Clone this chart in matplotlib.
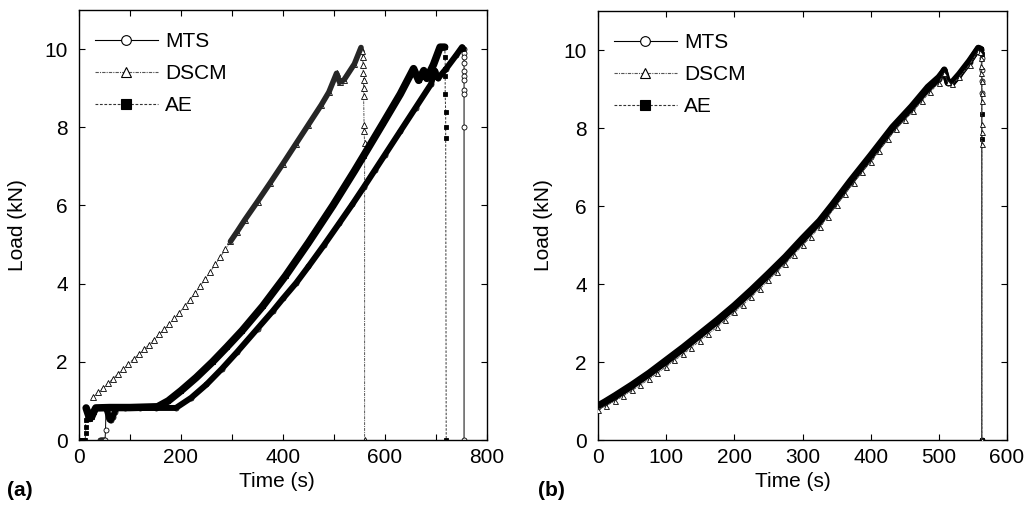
import matplotlib
matplotlib.use("Agg")
import matplotlib.pyplot as plt
from matplotlib.lines import Line2D

plt.rcParams['font.family'] = ['Liberation Sans', 'DejaVu Sans']

# ---------------- Panel (a) data ----------------
mts_a_t = [41, 43, 45, 47, 49, 51, 52, 53, 56, 59, 62, 66, 70, 74, 90, 120, 150, 190,
           220, 250, 280, 310, 350, 380, 400, 426, 450, 480, 510, 536, 558, 580, 600, 630,
           660, 690, 698, 704, 720, 740, 751, 754,
           755, 755, 755, 755, 755, 755, 755, 755, 755, 755]
mts_a_load = [0, 0, 0, 0, 0, 0, 0.26, 0.82, 0.7, 0.55, 0.5, 0.58, 0.72, 0.82, 0.82, 0.82, 0.82, 0.82,
              1.08, 1.42, 1.82, 2.25, 2.85, 3.3, 3.62, 4.02, 4.44, 4.98, 5.54, 6.03, 6.46, 6.9, 7.3, 7.9,
              8.5, 9.1, 9.45, 9.25, 9.5, 9.85, 10.05, 10.0,
              9.9, 9.8, 9.65, 9.45, 9.3, 9.2, 8.95, 8.85, 8.0, 0]

ae_a_t = [0, 3, 6, 9, 12, 13, 13, 13, 14, 17, 21, 25, 29, 33, 60, 100, 154,
          175, 200, 230, 262, 290, 320, 360, 405, 450, 498, 540, 558, 596, 630, 656, 666,
          676, 682, 695, 708, 717,
          718, 718, 718, 718, 719, 719, 719, 720]
ae_a_load = [0, 0, 0, 0, 0, 0.18, 0.34, 0.51, 0.82, 0.7, 0.55, 0.6, 0.72, 0.82, 0.83, 0.83, 0.85,
             1.0, 1.26, 1.6, 2.0, 2.38, 2.8, 3.42, 4.2, 5.05, 6.0, 6.88, 7.27, 8.1, 8.85, 9.5, 9.2,
             9.45, 9.25, 9.6, 10.05, 10.05,
             9.8, 9.5, 9.3, 8.85, 8.38, 8.0, 7.73, 0]

dscm_a_t = [27, 37, 47, 57, 67, 77, 87, 97, 107, 117, 127, 137, 147, 157, 167, 177, 187, 197,
            207, 217, 227, 237, 247, 257, 267, 277, 287, 297,
            310, 325, 350, 375, 400, 425, 450, 475, 490, 505, 511, 520, 540, 553,
            555, 556, 557, 557, 558, 558, 558, 559, 559, 560, 560]
dscm_a_load = [1.09, 1.22, 1.33, 1.45, 1.57, 1.70, 1.82, 1.95, 2.07, 2.19, 2.32, 2.44, 2.57, 2.70,
               2.83, 2.97, 3.11, 3.26, 3.42, 3.58, 3.75, 3.93, 4.11, 4.30, 4.49, 4.68, 4.88, 5.08,
               5.33, 5.63, 6.1, 6.58, 7.07, 7.57, 8.07, 8.57, 8.9, 9.38, 9.15, 9.22, 9.62, 10.04,
               9.95, 9.8, 9.6, 9.4, 9.2, 9.0, 8.8, 8.05, 7.9, 7.6, 0]

# ---------------- Panel (b) data ----------------
mts_b_t = [0, 10, 25, 50, 75, 100, 125, 150, 175, 200, 225, 250, 275, 300, 325, 344, 370, 400,
           432, 460, 484, 500, 508, 513, 520, 530, 545, 558, 562,
           563, 563, 563, 563, 563]
mts_b_load = [0.85, 0.95, 1.1, 1.38, 1.68, 2.0, 2.33, 2.68, 3.03, 3.4, 3.8, 4.22, 4.65, 5.12, 5.58,
              6.0, 6.6, 7.25, 7.98, 8.5, 9.0, 9.25, 9.5, 9.15, 9.15, 9.35, 9.7, 10.05, 10.0,
              9.8, 9.5, 9.2, 8.9, 0]

ae_b_t = [0, 10, 25, 50, 75, 100, 125, 150, 175, 200, 225, 250, 275, 300, 325, 344, 370, 400,
          432, 460, 484, 500, 508, 513, 520, 530, 545, 558, 562,
          563, 563, 563, 563]
ae_b_load = [0.88, 0.98, 1.14, 1.42, 1.72, 2.05, 2.38, 2.73, 3.08, 3.45, 3.85, 4.27, 4.7, 5.17, 5.62,
             6.04, 6.64, 7.3, 8.02, 8.55, 9.05, 9.3, 9.48, 9.18, 9.18, 9.38, 9.72, 10.05, 10.02,
             9.9, 8.37, 7.72, 0]

dscm_b_t = [0, 12, 25, 37, 50, 62, 75, 87, 100, 112, 125, 137, 150, 162, 175, 187, 200, 212, 225, 237,
            250, 262, 275, 287, 300, 312, 325, 337, 350, 362, 375, 387, 400, 412, 425, 437, 450, 462,
            475, 487, 500, 508, 513, 520, 530, 545, 558, 561,
            562, 562, 562, 563, 563, 563, 563, 563, 563, 563]
dscm_b_load = [0.78, 0.88, 1.0, 1.13, 1.27, 1.41, 1.56, 1.71, 1.88, 2.04, 2.2, 2.37, 2.55, 2.72, 2.9,
               3.08, 3.27, 3.46, 3.67, 3.87, 4.09, 4.3, 4.52, 4.75, 4.99, 5.21, 5.45, 5.72, 6.02, 6.3,
               6.6, 6.86, 7.14, 7.41, 7.71, 7.97, 8.21, 8.43, 8.69, 8.92, 9.15, 9.42, 9.18, 9.12, 9.3,
               9.62, 9.98, 9.95,
               9.8, 9.6, 9.4, 9.2, 8.9, 8.7, 8.1, 7.9, 7.6, 0]

series_labels = ["MTS", "DSCM", "AE"]

# index ranges where the recorded points are so dense they form a solid band
mts_a_band = (7, 41)
ae_a_band = (8, 37)
dscm_a_band = (27, 41)
mts_b_band = (0, 28)
ae_b_band = (0, 28)

STY = {
    "MTS": dict(marker="o", mfc="white", ls="-", color="black"),
    "DSCM": dict(marker="^", mfc="white", ls=(0, (3, 1, 1, 1)), color="#555555"),
    "AE": dict(marker="s", mfc="black", ls=(0, (2.5, 1.5)), color="#333333"),
}


def draw(ax, t, y, name, ms, band=None, bandw=4.0, bandcolor="black", z=2):
    s = STY[name]
    ax.plot(t, y, linestyle=s["ls"], color=s["color"], lw=0.7, marker=s["marker"],
            mfc=s["mfc"], mec="black", ms=ms, mew=0.6, zorder=z)
    if band is not None:
        i0, i1 = band
        ax.plot(t[i0:i1 + 1], y[i0:i1 + 1], color=bandcolor, lw=bandw,
                solid_capstyle="round", solid_joinstyle="round", zorder=z + 1)


FS = 15
fig = plt.figure(figsize=(10.26, 5.08), dpi=100)
W, H = 1026, 508
ax1 = fig.add_axes([79 / W, (H - 440) / H, 408 / W, 430 / H])
ax2 = fig.add_axes([598 / W, (H - 440) / H, 409 / W, 429 / H])

# panel (a)
draw(ax1, dscm_a_t, dscm_a_load, "DSCM", 3.8, dscm_a_band, 4.0, "#262626")
draw(ax1, mts_a_t, mts_a_load, "MTS", 3.6, mts_a_band, 4.3, "black")
draw(ax1, ae_a_t, ae_a_load, "AE", 3.4, ae_a_band, 5.4, "black")

# panel (b)
draw(ax2, mts_b_t, mts_b_load, "MTS", 3.6, mts_b_band, 4.4, "black")
draw(ax2, ae_b_t, ae_b_load, "AE", 3.4, ae_b_band, 4.8, "black")
draw(ax2, dscm_b_t, dscm_b_load, "DSCM", 3.6, None, z=5)

for ax in (ax1, ax2):
    ax.set_ylim(0, 11)
    ax.set_yticks([0, 2, 4, 6, 8, 10])
    ax.tick_params(which="both", direction="in", top=True, right=True, length=4.5,
                   width=0.8, labelsize=FS)
    ax.tick_params(axis="x", pad=6)
    ax.tick_params(axis="y", pad=8)
    for sp in ax.spines.values():
        sp.set_linewidth(1.0)
    ax.set_ylabel("Load (kN)", fontsize=FS)
    ax.set_xlabel("Time (s)", fontsize=FS)

ax1.set_xlim(0, 800)
ax1.set_xticks([0, 200, 400, 600, 800])
ax1.set_xticks([100, 300, 500, 700], minor=True)
ax2.set_xlim(0, 600)
ax2.set_xticks([0, 100, 200, 300, 400, 500, 600])

ax1.yaxis.set_label_coords(-0.127, 0.5)
ax2.yaxis.set_label_coords(-0.11, 0.5)
ax1.xaxis.set_label_coords(0.485, -0.074)
ax2.xaxis.set_label_coords(0.477, -0.074)

handles = []
for name in series_labels:
    s = STY[name]
    handles.append(Line2D([], [], linestyle=s["ls"], color=s["color"], lw=0.8,
                          marker=s["marker"], mfc=s["mfc"], mec="black", ms=7, mew=0.8))

for ax in (ax1, ax2):
    ax.legend(handles, series_labels, loc="upper left", bbox_to_anchor=(16 / 408, 0.948),
              frameon=False, borderaxespad=0, borderpad=0, fontsize=FS,
              handlelength=3.0, handletextpad=0.35, labelspacing=0.62)

fig.text(7 / W, 1 - 490 / H, "(a)", fontsize=FS, fontweight="bold", va="center", ha="left")
fig.text(538 / W, 1 - 490 / H, "(b)", fontsize=FS, fontweight="bold", va="center", ha="left")

fig.savefig("out.png", dpi=100)
